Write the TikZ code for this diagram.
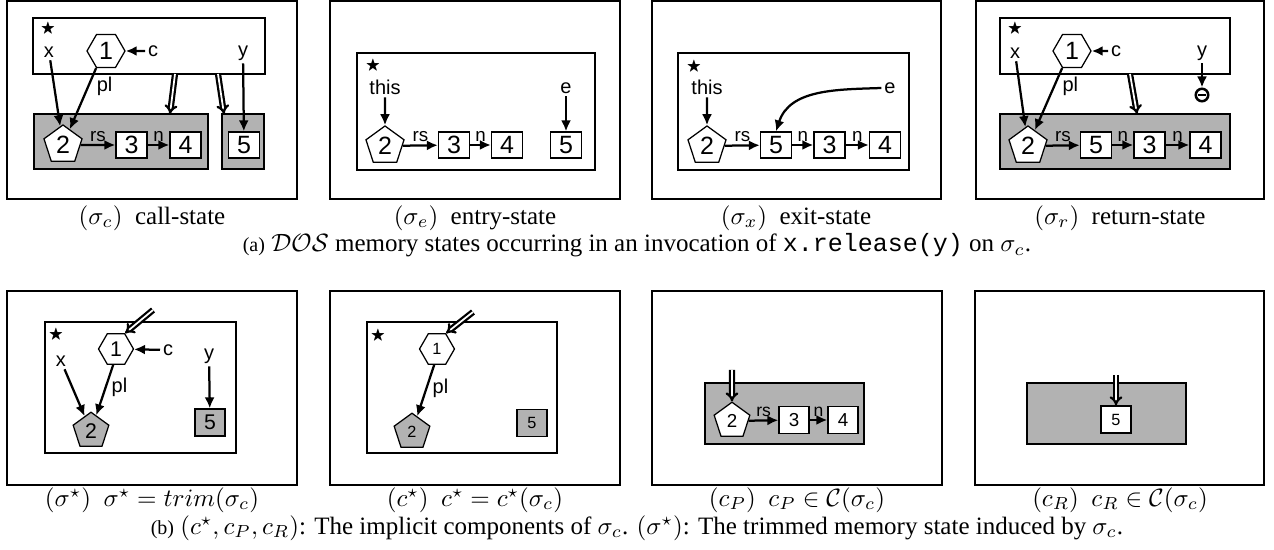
\documentclass[tikz,border=0pt]{standalone}
\usepackage{amssymb}
\usepackage{fontspec}
\setmainfont{Liberation Serif}
\setsansfont{Liberation Sans}
\setmonofont{Liberation Mono}
\usetikzlibrary{shapes.geometric,arrows.meta}
\newcommand{\fs}[1]{\fontsize{#1}{#1}\selectfont}

\tikzset{
  panel/.style={draw, line width=0.8pt},
  heapbox/.style={draw, line width=0.6pt},
  compbox/.style={draw, line width=0.6pt, fill=black!30},
  obj/.style={draw, fill=white, line width=0.5pt, inner sep=0pt, minimum width=12.4pt, minimum height=10.4pt, font=\sffamily\fs{10}},
  hexo/.style={regular polygon, regular polygon sides=6, draw, fill=white, line width=0.5pt, inner sep=0pt, minimum size=15.2pt, font=\sffamily\fs{10}},
  pento/.style={regular polygon, regular polygon sides=5, draw, fill=white, line width=0.5pt, inner sep=0pt, minimum size=16pt, font=\sffamily\fs{10}},
  varlbl/.style={inner sep=1pt, font=\sffamily\fs{8}},
  elbl/.style={inner sep=1pt, font=\sffamily\fs{7.5}},
  starlbl/.style={inner sep=0pt, font=\fs{6}},
  ptr/.style={-{Latex[length=4.4pt,width=4pt]}, line width=0.9pt},
  dptr/.style={double, double distance=0.7pt, line width=0.9pt, -{Implies[scale=1.3]}},
  nilsym/.style={circle, draw, line width=1pt, inner sep=0pt, minimum size=5pt},
  capt/.style={inner sep=0pt, font=\fs{10}},
}

\begin{document}
\begin{tikzpicture}[x=0.4pt,y=-0.4pt]
  \useasboundingbox (0,0) rectangle (1274,550);

  % call-state
  \draw[panel] (7,1) rectangle (297,199);
  \draw[heapbox] (33,18) rectangle (265,74);
  \draw[compbox] (34,114) rectangle (208,169);
  \draw[compbox] (222,114) rectangle (264,169);
  \node[starlbl] (sC) at (48,29) {$\bigstar$};
  \node[varlbl] (xC) at (49,52) {x};
  \node[hexo] (hC) at (106,51) {1};
  \node[varlbl] (cC) at (153,51) {c};
  \node[varlbl] (yC) at (243,53) {y};
  \node[pento] (pC) at (63,145) {2};
  \node[obj] (n3C) at (131.5,145) {3};
  \node[obj] (n4C) at (185.5,145) {4};
  \node[obj] (n5C) at (244,145) {5};
  \coordinate (d1C) at (175,74);
  \coordinate (e1C) at (170,114);
  \coordinate (d2C) at (218,74);
  \coordinate (e2C) at (224,114);
  \draw[ptr] (cC) -- (hC);
  \draw[ptr] (xC) -- (pC);
  \draw[ptr] (hC.240) -- (pC) node[pos=0.3, right=2pt, varlbl] (plC) {pl};
  \draw[ptr] (yC) -- (n5C);
  \draw[ptr] (pC) -- (n3C) node[midway, above, elbl] (rsC) {rs};
  \draw[ptr] (n3C) -- (n4C) node[midway, above, elbl] (nC) {n};
  \draw[dptr] (d1C) -- (e1C);
  \draw[dptr] (d2C) -- (e2C);
  \node[capt] (capC) at (152,218) {$(\sigma_c)$\ \ call-state};

  % entry-state
  \draw[panel] (330,1) rectangle (620,199);
  \draw[heapbox] (357,53) rectangle (595,170);
  \node[starlbl] (sE) at (373,66) {$\bigstar$};
  \node[varlbl] (thisE) at (385,87) {this};
  \node[pento] (pE) at (385,146) {2};
  \node[obj] (n3E) at (454,145) {3};
  \node[obj] (n4E) at (507,145) {4};
  \node[obj] (n5E) at (566,145) {5};
  \node[varlbl] (eE) at (566,88) {e};
  \draw[ptr] (thisE) -- (pE);
  \draw[ptr] (eE) -- (n5E);
  \draw[ptr] (pE) -- (n3E) node[midway, above, elbl] (rsE) {rs};
  \draw[ptr] (n3E) -- (n4E) node[midway, above, elbl] (nE) {n};
  \node[capt] (capE) at (475,218) {$(\sigma_e)$\ \ entry-state};

  % exit-state
  \draw[panel] (652,1) rectangle (941,199);
  \draw[heapbox] (678,53) rectangle (909,170);
  \node[starlbl] (sX) at (694,67) {$\bigstar$};
  \node[varlbl] (thisX) at (707,87) {this};
  \node[pento] (pX) at (707,146) {2};
  \node[obj] (n5X) at (776,145) {5};
  \node[obj] (n3X) at (829.5,145) {3};
  \node[obj] (n4X) at (885,145) {4};
  \node[varlbl] (eX) at (890,88) {e};
  \draw[ptr] (thisX) -- (pX);
  \draw[ptr] (pX) -- (n5X) node[midway, above, elbl] (rsX) {rs};
  \draw[ptr] (n5X) -- (n3X) node[midway, above, elbl] (n1X) {n};
  \draw[ptr] (n3X) -- (n4X) node[midway, above, elbl] (n2X) {n};
  \draw[ptr] (eX.west) to[out=182, in=72] (n5X.north);
  \node[capt] (capX) at (796,218) {$(\sigma_x)$\ \ exit-state};

  % return-state
  \draw[panel] (976,1) rectangle (1264,199);
  \draw[heapbox] (1000,18) rectangle (1230,74);
  \draw[compbox] (1000,114) rectangle (1230,169);
  \node[starlbl] (sR) at (1015,29) {$\bigstar$};
  \node[varlbl] (xR) at (1015,53) {x};
  \node[hexo] (hR) at (1072,51) {1};
  \node[varlbl] (cR) at (1116,51) {c};
  \node[varlbl] (yR) at (1202,53) {y};
  \node[nilsym] (nilR) at (1202,95) {\rule{3.4pt}{0.9pt}};
  \node[pento] (pR) at (1028,146) {2};
  \node[obj] (n5R) at (1096,145) {5};
  \node[obj] (n3R) at (1149.5,145) {3};
  \node[obj] (n4R) at (1205.5,145) {4};
  \coordinate (d1R) at (1130,74);
  \coordinate (e1R) at (1137,114);
  \draw[ptr] (cR) -- (hR);
  \draw[ptr] (xR) -- (pR);
  \draw[ptr] (hR.240) -- (pR) node[pos=0.3, right=2pt, varlbl] (plR) {pl};
  \draw[ptr] (yR) -- (nilR);
  \draw[ptr] (pR) -- (n5R) node[midway, above, elbl] (rsR) {rs};
  \draw[ptr] (n5R) -- (n3R) node[midway, above, elbl] (n1R) {n};
  \draw[ptr] (n3R) -- (n4R) node[midway, above, elbl] (n2R) {n};
  \draw[dptr] (d1R) -- (e1R);
  \node[capt] (capR) at (1120,218) {$(\sigma_r)$\ \ return-state};

  \node[capt] (capA) at (637,245) {{\fs{8}(a)} $\mathcal{DOS}$ memory states occurring in an invocation of \texttt{x.release(y)} on $\sigma_c$.};

  % trimmed state
  \draw[panel] (7,291) rectangle (297,485);
  \draw[heapbox] (45,322) rectangle (236,453);
  \node[starlbl] (sT) at (56,335) {$\bigstar$};
  \node[hexo, minimum size=14pt, font=\sffamily\fs{8.5}] (hT) at (116,349) {1};
  \node[varlbl] (cT) at (168,350) {c};
  \node[varlbl] (xT) at (61,361) {x};
  \node[varlbl] (yT) at (209,356) {y};
  \node[pento, fill=black!30, minimum size=15pt, font=\sffamily\fs{8.5}] (pT) at (91,431) {2};
  \node[obj, fill=black!30, minimum width=12pt, minimum height=10.8pt, font=\sffamily\fs{8.5}] (n5T) at (210,422.5) {5};
  \coordinate (dT) at (153,310);
  \draw[ptr] (cT) -- (hT);
  \draw[ptr] (xT) -- (pT);
  \draw[ptr] (hT.260) -- (pT) node[pos=0.45, right=1pt, varlbl] (plT) {pl};
  \draw[ptr] (yT) -- (n5T);
  \draw[dptr] (dT) -- (hT.60);
  \node[capt] (capT) at (152,500) {$(\sigma^\star)$\ \ $\sigma^\star = trim(\sigma_c)$};

  % c star
  \draw[panel] (330,291) rectangle (620,485);
  \draw[heapbox] (367,322) rectangle (557,453);
  \node[starlbl] (sS) at (378,336) {$\bigstar$};
  \node[hexo, minimum size=14pt, font=\sffamily\fs{6.5}] (hS) at (437,349) {1};
  \node[pento, fill=black!30, minimum size=15pt, font=\sffamily\fs{6.5}] (pS) at (412,432) {2};
  \node[obj, fill=black!30, minimum width=12pt, minimum height=10.8pt, font=\sffamily\fs{6.5}] (n5S) at (532,423) {5};
  \coordinate (dS) at (473,312);
  \draw[ptr] (hS.260) -- (pS) node[pos=0.45, right=1pt, varlbl] (plS) {pl};
  \draw[dptr] (dS) -- (hS.60);
  \node[capt] (capS) at (475,500) {$(c^\star)$\ \ $c^\star = c^\star(\sigma_c)$};

  % c_P
  \draw[panel] (652,291) rectangle (942,485);
  \draw[compbox] (705,383) rectangle (864,444);
  \node[pento, minimum size=15pt, font=\sffamily\fs{7.5}] (pP) at (732,421) {2};
  \node[obj, minimum width=12pt, minimum height=10.8pt, font=\sffamily\fs{7.5}] (n3P) at (794,420) {3};
  \node[obj, minimum width=12pt, minimum height=10.8pt, font=\sffamily\fs{7.5}] (n4P) at (843,420) {4};
  \coordinate (dP) at (732,370);
  \draw[ptr] (pP) -- (n3P) node[midway, above, elbl, font=\sffamily\fs{7}] (rsP) {rs};
  \draw[ptr] (n3P) -- (n4P) node[midway, above, elbl, font=\sffamily\fs{7}] (nP) {n};
  \draw[dptr] (dP) -- (pP);
  \node[capt] (capP) at (797,500) {$(c_P)$\ \ $c_P \in \mathcal{C}(\sigma_c)$};

  % c_R
  \draw[panel] (975,291) rectangle (1264,485);
  \draw[compbox] (1027,383) rectangle (1186,444);
  \node[obj, minimum width=12pt, minimum height=10.8pt, font=\sffamily\fs{6.5}] (n5Q) at (1116,419.5) {5};
  \coordinate (dQ) at (1116,375);
  \draw[dptr] (dQ) -- (n5Q);
  \node[capt] (capQ) at (1120,500) {$(c_R)$\ \ $c_R \in \mathcal{C}(\sigma_c)$};

  \node[capt] (capB) at (637,528) {{\fs{8}(b)} $(c^\star, c_P, c_R)$: The implicit components of $\sigma_c$. $(\sigma^\star)$: The trimmed memory state induced by $\sigma_c$.};
\end{tikzpicture}
\end{document}
